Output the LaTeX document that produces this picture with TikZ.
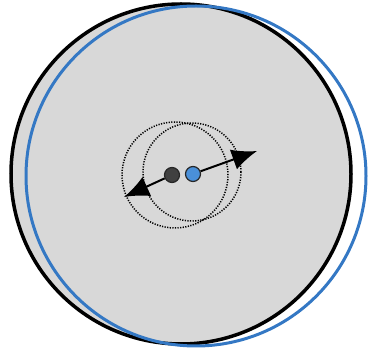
\documentclass[tikz,border=0pt]{standalone}
\usetikzlibrary{arrows.meta}
\definecolor{bgray}{RGB}{216,216,216}
\definecolor{cblue}{RGB}{52,120,196}
\definecolor{dotdark}{RGB}{64,64,64}
\definecolor{dotblue}{RGB}{74,144,217}
\tikzset{
  ring/.style={circle, inner sep=0pt},
  dring/.style={circle, inner sep=0pt, draw=black, line width=1.5pt, dash pattern=on 1.2pt off 1.4pt},
  pdot/.style={circle, inner sep=0pt, minimum size=15pt, draw=black!85, line width=1.2pt},
  bigarrow/.style={line width=2pt, -{Latex[length=25pt,width=21pt]}}
}
\begin{document}
\begin{tikzpicture}[x=1pt,y=-1pt]
\useasboundingbox (0,0) rectangle (372,352);
\node[ring, line width=3.5pt, minimum size=340pt, draw=black, fill=bgray] (outer) at (181,174) {};
\node[ring, line width=3pt, minimum size=340pt, draw=cblue] (shifted) at (196,176) {};
\node[dring, minimum size=106pt] (dA) at (175,175) {};
\node[dring, minimum size=98pt] (dB) at (192,172) {};
\node[pdot, fill=dotdark] (bdot) at (172,175) {};
\node[pdot, fill=dotblue] (udot) at (193,174) {};
\coordinate (ltip) at (124,197);
\coordinate (rtip) at (257,151);
\draw[bigarrow] (bdot) -- (ltip);
\draw[bigarrow] (udot) -- (rtip);
\end{tikzpicture}
\end{document}
